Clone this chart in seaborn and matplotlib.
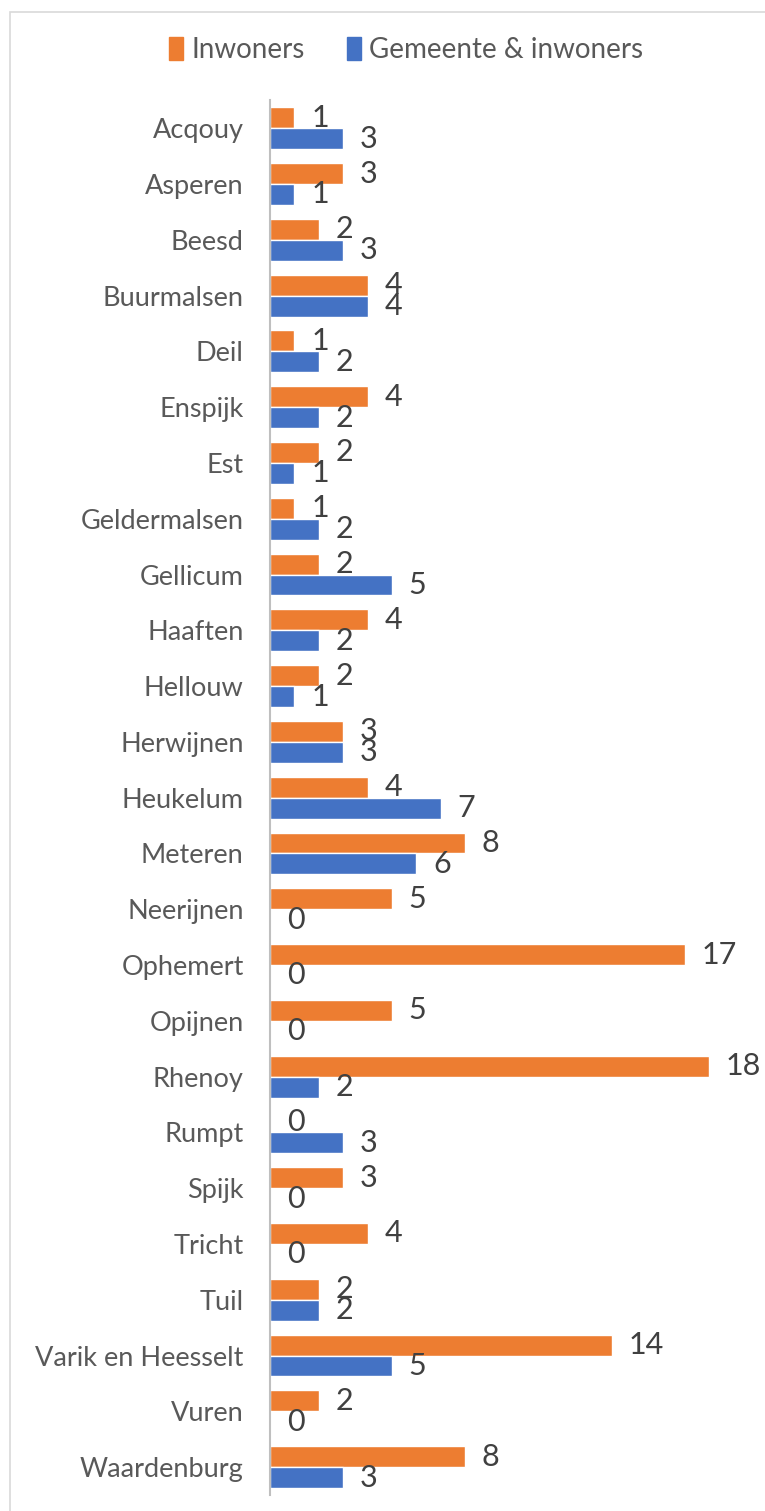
import matplotlib
matplotlib.use("Agg")
import matplotlib.pyplot as plt
import matplotlib.patches as mpatches
import seaborn as sns
import pandas as pd

dorpen = ["Acqouy", "Asperen", "Beesd", "Buurmalsen", "Deil", "Enspijk", "Est",
          "Geldermalsen", "Gellicum", "Haaften", "Hellouw", "Herwijnen", "Heukelum",
          "Meteren", "Neerijnen", "Ophemert", "Opijnen", "Rhenoy", "Rumpt", "Spijk",
          "Tricht", "Tuil", "Varik en Heesselt", "Vuren", "Waardenburg"]
inwoners = [1, 3, 2, 4, 1, 4, 2, 1, 2, 4, 2, 3, 4, 8, 5, 17, 5, 18, 0, 3, 4, 2, 14, 2, 8]
gemeente = [3, 1, 3, 4, 2, 2, 1, 2, 5, 2, 1, 3, 7, 6, 0, 0, 0, 2, 3, 0, 0, 2, 5, 0, 3]
reeksen = ["Inwoners", "Gemeente & inwoners"]
kleuren = ["#ED7D31", "#4472C4"]

df = pd.DataFrame({
    "dorp": dorpen * 2,
    "aantal": inwoners + gemeente,
    "reeks": [reeksen[0]] * len(dorpen) + [reeksen[1]] * len(dorpen),
})

sns.set_style("white")
plt.rcParams["font.family"] = ["Lato", "DejaVu Sans"]

fig = plt.figure(figsize=(7.65, 15.11), dpi=100)
ax = fig.add_axes([0.353, 0.0106, 0.638, 0.923])
sns.barplot(data=df, y="dorp", x="aantal", hue="reeks", hue_order=reeksen,
            palette=kleuren, width=0.75, orient="h", ax=ax, legend=False,
            errorbar=None, saturation=1)

for c in ax.containers:
    ax.bar_label(c, padding=12, fontsize=22, color="#404040")

ax.set_xlim(0, 20)
ax.set_ylim(24.5, -0.5)
ax.set_xlabel("")
ax.set_ylabel("")
ax.set_xticks([])
ax.tick_params(axis="y", length=0, labelsize=19.5, labelcolor="#595959", pad=19)
for s in ["top", "right", "bottom"]:
    ax.spines[s].set_visible(False)
ax.spines["left"].set_color("#BFBFBF")
ax.spines["left"].set_linewidth(1.5)

handles = [mpatches.Patch(color=k, label=r) for k, r in zip(kleuren, reeksen)]
fig.legend(handles=handles, loc="center", bbox_to_anchor=(0.531, 0.967), ncol=2,
           frameon=False, fontsize=20, handlelength=0.5, handleheight=0.9,
           handletextpad=0.3, columnspacing=1.5, labelcolor="#595959")

fig.add_artist(mpatches.Rectangle((10 / 765, -0.05), 1.2, 1 - 12 / 1511 + 0.05,
                                  transform=fig.transFigure, fill=False,
                                  edgecolor="#D9D9D9", linewidth=1.2))

fig.savefig("out.png", dpi=100, facecolor="white")
